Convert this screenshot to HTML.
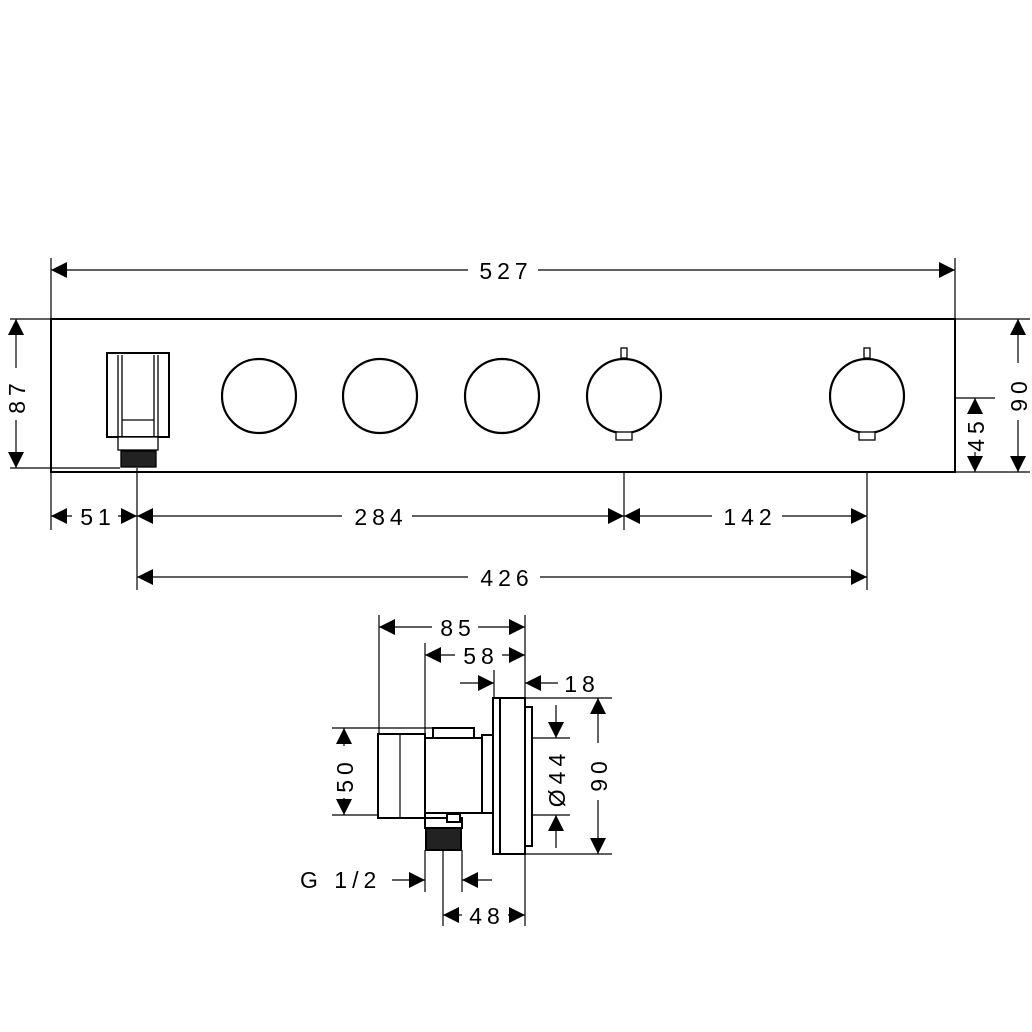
<!DOCTYPE html>
<html><head><style>html,body{margin:0;padding:0;background:#fff}svg{display:block}text{font-family:"Liberation Sans",sans-serif;font-size:23px;fill:#000;letter-spacing:5px}</style></head>
<body>
<svg width="1032" height="1032" viewBox="0 0 1032 1032" xmlns="http://www.w3.org/2000/svg">
<defs>
<marker id="a" viewBox="0 0 10 10" refX="10" refY="5" markerWidth="16" markerHeight="16" markerUnits="userSpaceOnUse" orient="auto-start-reverse"><path d="M0,0 L10,5 L0,10z" fill="#000"/></marker>
</defs>
<g stroke="#000" fill="none" stroke-width="1.2">
<line x1="51" y1="258" x2="51" y2="530"/>
<line x1="955" y1="258" x2="955" y2="319"/>
<line x1="10" y1="319" x2="1030" y2="319"/>
<line x1="10" y1="468" x2="120" y2="468"/>
<line x1="955" y1="472" x2="1030" y2="472"/>
<line x1="955" y1="398" x2="995" y2="398"/>
<line x1="137" y1="468" x2="137" y2="590"/>
<line x1="624" y1="472" x2="624" y2="530"/>
<line x1="867" y1="472" x2="867" y2="590"/>
<line x1="51" y1="270" x2="468" y2="270" marker-start="url(#a)"/>
<line x1="538" y1="270" x2="955" y2="270" marker-end="url(#a)"/>
<line x1="16" y1="319" x2="16" y2="368" marker-start="url(#a)"/>
<line x1="16" y1="420" x2="16" y2="468" marker-end="url(#a)"/>
<line x1="1018" y1="319" x2="1018" y2="363" marker-start="url(#a)"/>
<line x1="1018" y1="420" x2="1018" y2="472" marker-end="url(#a)"/>
<line x1="975" y1="398" x2="975" y2="410" marker-start="url(#a)"/>
<line x1="975" y1="452" x2="975" y2="472" marker-end="url(#a)"/>
<line x1="51" y1="516" x2="72" y2="516" marker-start="url(#a)"/>
<line x1="118" y1="516" x2="137" y2="516" marker-end="url(#a)"/>
<line x1="137" y1="516" x2="342" y2="516" marker-start="url(#a)"/>
<line x1="412" y1="516" x2="624" y2="516" marker-end="url(#a)"/>
<line x1="624" y1="516" x2="712" y2="516" marker-start="url(#a)"/>
<line x1="782" y1="516" x2="867" y2="516" marker-end="url(#a)"/>
<line x1="137" y1="577" x2="468" y2="577" marker-start="url(#a)"/>
<line x1="540" y1="577" x2="867" y2="577" marker-end="url(#a)"/>
</g>
<rect x="51" y="319" width="904" height="153" fill="none" stroke="#000" stroke-width="2"/>
<g stroke="#000" fill="none" stroke-width="2.2">
<circle cx="259" cy="396" r="37"/>
<circle cx="380" cy="396" r="37"/>
<circle cx="502" cy="396" r="37"/>
<circle cx="624" cy="396" r="37"/>
<circle cx="867" cy="396" r="37"/>
</g>
<g stroke="#000" fill="#fff" stroke-width="1.3">
<rect x="621" y="348" width="6" height="10"/>
<rect x="864" y="348" width="6" height="10"/>
<rect x="616" y="432" width="16" height="8"/>
<rect x="859" y="432" width="16" height="8"/>
<rect x="107" y="353" width="62" height="84" stroke-width="2"/>
<line x1="118" y1="355" x2="118" y2="437"/>
<line x1="122" y1="355" x2="122" y2="437"/>
<line x1="154" y1="355" x2="154" y2="437"/>
<line x1="158" y1="355" x2="158" y2="437"/>
<line x1="122" y1="420" x2="154" y2="420"/>
<rect x="118" y="437" width="40" height="13"/>
<rect x="121" y="451" width="35" height="16" fill="#222"/>
</g>
<g stroke="#000" fill="none" stroke-width="1.2">
<line x1="379" y1="615" x2="379" y2="734"/>
<line x1="525" y1="615" x2="525" y2="698"/>
<line x1="425" y1="643" x2="425" y2="738"/>
<line x1="494" y1="670" x2="494" y2="698"/>
<line x1="332" y1="728" x2="433" y2="728"/>
<line x1="332" y1="815" x2="425" y2="815"/>
<line x1="525" y1="698" x2="612" y2="698"/>
<line x1="525" y1="854" x2="612" y2="854"/>
<line x1="532" y1="738" x2="570" y2="738"/>
<line x1="532" y1="815" x2="570" y2="815"/>
<line x1="425" y1="850" x2="425" y2="892"/>
<line x1="462" y1="850" x2="462" y2="892"/>
<line x1="443" y1="850" x2="443" y2="926"/>
<line x1="525" y1="854" x2="525" y2="926"/>
<line x1="379" y1="627" x2="432" y2="627" marker-start="url(#a)"/>
<line x1="478" y1="627" x2="525" y2="627" marker-end="url(#a)"/>
<line x1="425" y1="655" x2="455" y2="655" marker-start="url(#a)"/>
<line x1="502" y1="655" x2="525" y2="655" marker-end="url(#a)"/>
<line x1="460" y1="683" x2="494" y2="683" marker-end="url(#a)"/>
<line x1="558" y1="683" x2="525" y2="683" marker-end="url(#a)"/>
<line x1="344" y1="728" x2="344" y2="746" marker-start="url(#a)"/>
<line x1="344" y1="798" x2="344" y2="815" marker-end="url(#a)"/>
<line x1="556" y1="705" x2="556" y2="738" marker-end="url(#a)"/>
<line x1="556" y1="848" x2="556" y2="815" marker-end="url(#a)"/>
<line x1="598" y1="698" x2="598" y2="743" marker-start="url(#a)"/>
<line x1="598" y1="800" x2="598" y2="854" marker-end="url(#a)"/>
<line x1="392" y1="880" x2="425" y2="880" marker-end="url(#a)"/>
<line x1="492" y1="880" x2="462" y2="880" marker-end="url(#a)"/>
<line x1="443" y1="915" x2="462" y2="915" marker-start="url(#a)"/>
<line x1="508" y1="915" x2="525" y2="915" marker-end="url(#a)"/>
</g>
<g stroke="#000" fill="#fff" stroke-width="2">
<rect x="433" y="728" width="41" height="10"/>
<rect x="378" y="734" width="47" height="84"/>
<line x1="400" y1="734" x2="400" y2="818" stroke-width="1.2"/>
<rect x="425" y="738" width="57" height="75"/>
<rect x="482" y="735" width="11" height="78"/>
<rect x="425" y="818" width="37" height="10"/>
<rect x="426" y="828" width="35" height="22" fill="#222"/>
<rect x="447" y="814" width="13" height="8"/>
<rect x="525" y="707" width="7" height="139"/>
<rect x="493" y="698" width="7" height="156"/>
<rect x="500" y="698" width="25" height="156"/>
</g>
<g>
<text x="506" y="279" text-anchor="middle">527</text>
<text x="98" y="525" text-anchor="middle">51</text>
<text x="381" y="525" text-anchor="middle">284</text>
<text x="750" y="525" text-anchor="middle">142</text>
<text x="507" y="586" text-anchor="middle">426</text>
<text transform="translate(25,396) rotate(-90)" text-anchor="middle">87</text>
<text transform="translate(1027,394) rotate(-90)" text-anchor="middle">90</text>
<text transform="translate(984,434) rotate(-90)" text-anchor="middle">45</text>
<text x="458" y="636" text-anchor="middle">85</text>
<text x="481" y="664" text-anchor="middle">58</text>
<text x="582" y="692" text-anchor="middle">18</text>
<text transform="translate(353,775) rotate(-90)" text-anchor="middle">50</text>
<text transform="translate(565,778) rotate(-90)" text-anchor="middle">Ø44</text>
<text transform="translate(607,774) rotate(-90)" text-anchor="middle">90</text>
<text x="300" y="888">G 1/2</text>
<text x="487" y="924" text-anchor="middle">48</text>
</g>
</svg>
</body></html>
